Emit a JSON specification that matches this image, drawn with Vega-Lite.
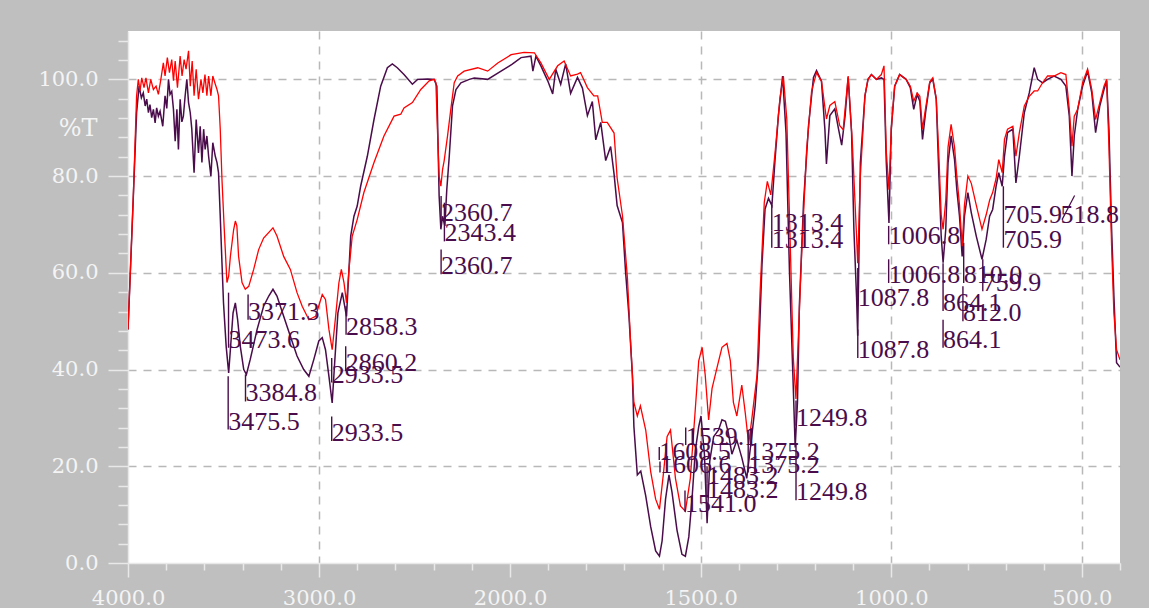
{
"$schema": "https://vega.github.io/schema/vega-lite/v6.json",
"width": 992, "height": 532,
"autosize": "none",
"padding": {"left": 128, "top": 31, "right": 29, "bottom": 45},
"background": "#bfbfbf",
"config": {"view": {"stroke": null, "fill": "#ffffff"}},
"datasets": {
"A": [
{"w":4000,"t":48.3},{"w":3990,"t":57.9},{"w":3972,"t":75.9},{"w":3955,"t":93.1},{"w":3942,"t":98.6},{"w":3930,"t":96.2},{"w":3920,"t":97.2},{"w":3910,"t":94.5},{"w":3902,"t":95.9},{"w":3893,"t":93.1},{"w":3885,"t":94.8},{"w":3876,"t":92.1},{"w":3867,"t":93.8},{"w":3858,"t":91},{"w":3850,"t":94.1},{"w":3841,"t":92.4},{"w":3832,"t":93.4},{"w":3818,"t":90.3},{"w":3806,"t":96.6},{"w":3797,"t":94},{"w":3788,"t":100},{"w":3780,"t":96.9},{"w":3771,"t":97.5},{"w":3762,"t":93.8},{"w":3753,"t":87.2},{"w":3744,"t":93.8},{"w":3736,"t":85.5},{"w":3727,"t":95.9},{"w":3718,"t":91.2},{"w":3710,"t":92.4},{"w":3701,"t":96.5},{"w":3692,"t":100},{"w":3683,"t":95.2},{"w":3674,"t":93.1},{"w":3666,"t":89.7},{"w":3654,"t":80.7},{"w":3643,"t":91.7},{"w":3631,"t":84.8},{"w":3622,"t":90.3},{"w":3613,"t":82.8},{"w":3604,"t":89.7},{"w":3596,"t":85.5},{"w":3587,"t":88.3},{"w":3578,"t":84.1},{"w":3566,"t":80},{"w":3556,"t":86.9},{"w":3543,"t":84.1},{"w":3534,"t":82.8},{"w":3526,"t":80.7},{"w":3517,"t":71.7},{"w":3508,"t":62.1},{"w":3500,"t":53.8},{"w":3486,"t":44.8},{"w":3473,"t":39.3},{"w":3464,"t":44.1},{"w":3450,"t":51.7},{"w":3438,"t":53.8},{"w":3426,"t":50.3},{"w":3412,"t":44.8},{"w":3394,"t":40},{"w":3380,"t":39},{"w":3360,"t":42.1},{"w":3324,"t":48.3},{"w":3290,"t":53.1},{"w":3263,"t":55.2},{"w":3241,"t":56.6},{"w":3220,"t":55.2},{"w":3185,"t":51},{"w":3150,"t":46.9},{"w":3115,"t":42.8},{"w":3080,"t":40},{"w":3053,"t":38.6},{"w":3027,"t":42.1},{"w":3001,"t":45.9},{"w":2983,"t":46.6},{"w":2966,"t":44.1},{"w":2948,"t":38.6},{"w":2931,"t":33.1},{"w":2918,"t":41.4},{"w":2901,"t":51.7},{"w":2878,"t":55.9},{"w":2856,"t":51},{"w":2834,"t":67.6},{"w":2817,"t":71.7},{"w":2800,"t":73.8},{"w":2782,"t":77.9},{"w":2747,"t":84.1},{"w":2712,"t":91.7},{"w":2677,"t":98.6},{"w":2642,"t":102.4},{"w":2616,"t":103.2},{"w":2590,"t":102.4},{"w":2555,"t":101},{"w":2511,"t":99},{"w":2484,"t":100},{"w":2432,"t":100.1},{"w":2397,"t":100},{"w":2383,"t":98.6},{"w":2371,"t":75.9},{"w":2362,"t":69},{"w":2353,"t":71.7},{"w":2341,"t":69.7},{"w":2331,"t":77.2},{"w":2318,"t":84.1},{"w":2301,"t":94.5},{"w":2283,"t":97.9},{"w":2257,"t":99.3},{"w":2213,"t":100},{"w":2187,"t":100.3},{"w":2117,"t":100},{"w":2047,"t":101.7},{"w":1995,"t":103.1},{"w":1971,"t":104.5},{"w":1945,"t":104.8},{"w":1940,"t":101.7},{"w":1932,"t":104.8},{"w":1919,"t":102.8},{"w":1901,"t":99.7},{"w":1888,"t":97},{"w":1880,"t":102.1},{"w":1867,"t":99},{"w":1854,"t":103.2},{"w":1841,"t":97.1},{"w":1823,"t":100.4},{"w":1810,"t":98.2},{"w":1797,"t":92.5},{"w":1784,"t":95.4},{"w":1775,"t":87.5},{"w":1762,"t":91.1},{"w":1749,"t":83.2},{"w":1736,"t":86.1},{"w":1727,"t":80.4},{"w":1719,"t":73.9},{"w":1705,"t":70.4},{"w":1697,"t":60.4},{"w":1688,"t":51.1},{"w":1679,"t":38.9},{"w":1675,"t":28.2},{"w":1666,"t":18.2},{"w":1657,"t":19},{"w":1644,"t":13.9},{"w":1631,"t":7.5},{"w":1618,"t":2.5},{"w":1608,"t":1.4},{"w":1601,"t":4.6},{"w":1592,"t":13.2},{"w":1583,"t":18.2},{"w":1575,"t":14.6},{"w":1562,"t":6.8},{"w":1549,"t":1.8},{"w":1540,"t":1.4},{"w":1531,"t":5.4},{"w":1522,"t":13.9},{"w":1514,"t":23.2},{"w":1505,"t":28.2},{"w":1499,"t":30.4},{"w":1490,"t":22.5},{"w":1483,"t":8.2},{"w":1476,"t":21.1},{"w":1466,"t":26.1},{"w":1453,"t":27.5},{"w":1444,"t":29.6},{"w":1435,"t":29.3},{"w":1427,"t":26.8},{"w":1418,"t":22.5},{"w":1405,"t":25.4},{"w":1392,"t":21.8},{"w":1379,"t":17.5},{"w":1366,"t":26.1},{"w":1357,"t":32.5},{"w":1348,"t":42.5},{"w":1339,"t":61.8},{"w":1331,"t":73.2},{"w":1322,"t":75.4},{"w":1313,"t":73.9},{"w":1305,"t":83.2},{"w":1296,"t":92.5},{"w":1285,"t":100.7},{"w":1276,"t":88.9},{"w":1267,"t":60.4},{"w":1258,"t":38.9},{"w":1252,"t":23.9},{"w":1246,"t":33.2},{"w":1241,"t":53.2},{"w":1230,"t":74.6},{"w":1217,"t":90.4},{"w":1204,"t":100.4},{"w":1196,"t":101.8},{"w":1183,"t":99.6},{"w":1174,"t":89.6},{"w":1170,"t":82.5},{"w":1161,"t":92.5},{"w":1148,"t":93.9},{"w":1139,"t":90},{"w":1130,"t":86.4},{"w":1121,"t":92.5},{"w":1113,"t":100.4},{"w":1104,"t":88.9},{"w":1098,"t":69},{"w":1091,"t":55},{"w":1088,"t":47},{"w":1081,"t":82.8},{"w":1069,"t":96.6},{"w":1061,"t":100},{"w":1052,"t":101},{"w":1039,"t":100},{"w":1026,"t":100.3},{"w":1019,"t":100},{"w":1013,"t":82.8},{"w":1006,"t":70.3},{"w":1000,"t":89.7},{"w":991,"t":98.6},{"w":978,"t":101},{"w":961,"t":100},{"w":950,"t":98.3},{"w":941,"t":93.8},{"w":932,"t":96.9},{"w":925,"t":95.5},{"w":918,"t":87.6},{"w":910,"t":93.1},{"w":899,"t":99.3},{"w":891,"t":100},{"w":882,"t":95.9},{"w":875,"t":80},{"w":869,"t":67.6},{"w":864,"t":62.1},{"w":857,"t":69},{"w":851,"t":82.8},{"w":843,"t":88.3},{"w":834,"t":83.4},{"w":828,"t":77.2},{"w":821,"t":71.7},{"w":814,"t":63.4},{"w":808,"t":71.7},{"w":799,"t":76.6},{"w":790,"t":72.4},{"w":777,"t":67.6},{"w":762,"t":62.8},{"w":751,"t":66.9},{"w":742,"t":71.7},{"w":734,"t":73.1},{"w":725,"t":77.9},{"w":718,"t":80.7},{"w":709,"t":77.9},{"w":703,"t":84.1},{"w":695,"t":89},{"w":681,"t":89.7},{"w":673,"t":78.6},{"w":664,"t":84.1},{"w":651,"t":93.1},{"w":638,"t":97.2},{"w":625,"t":102.4},{"w":616,"t":100},{"w":603,"t":99.3},{"w":590,"t":100},{"w":573,"t":100.7},{"w":555,"t":100},{"w":542,"t":98.6},{"w":533,"t":92.4},{"w":526,"t":80},{"w":520,"t":88.3},{"w":511,"t":93.8},{"w":498,"t":98.6},{"w":485,"t":101.7},{"w":474,"t":97.2},{"w":464,"t":89},{"w":453,"t":94.5},{"w":442,"t":97.9},{"w":435,"t":99.7},{"w":429,"t":89.7},{"w":422,"t":69},{"w":416,"t":55.2},{"w":409,"t":41.4},{"w":400,"t":40.5}
],
"B": [
{"w":4000,"t":48.3},{"w":3990,"t":58},{"w":3972,"t":76},{"w":3955,"t":96.6},{"w":3946,"t":100},{"w":3937,"t":97.6},{"w":3928,"t":100.3},{"w":3916,"t":98.3},{"w":3906,"t":100.3},{"w":3893,"t":97.2},{"w":3881,"t":100},{"w":3867,"t":97.9},{"w":3853,"t":98.6},{"w":3841,"t":96.9},{"w":3828,"t":100},{"w":3815,"t":103.4},{"w":3806,"t":100.7},{"w":3794,"t":104.5},{"w":3783,"t":101.4},{"w":3771,"t":104.1},{"w":3762,"t":99.7},{"w":3753,"t":103.8},{"w":3741,"t":98.3},{"w":3727,"t":104.8},{"w":3717,"t":100.7},{"w":3706,"t":104.1},{"w":3696,"t":102.1},{"w":3683,"t":105.9},{"w":3674,"t":98.6},{"w":3664,"t":103.8},{"w":3654,"t":96.6},{"w":3643,"t":102.1},{"w":3631,"t":95.9},{"w":3618,"t":100},{"w":3608,"t":97.2},{"w":3597,"t":101},{"w":3587,"t":96.6},{"w":3578,"t":100.7},{"w":3566,"t":96.6},{"w":3556,"t":100.7},{"w":3543,"t":99},{"w":3534,"t":97.9},{"w":3526,"t":96.6},{"w":3517,"t":89.7},{"w":3508,"t":79.3},{"w":3496,"t":69},{"w":3482,"t":58},{"w":3473,"t":59.3},{"w":3464,"t":63.4},{"w":3447,"t":68.9},{"w":3438,"t":70.7},{"w":3430,"t":69.7},{"w":3421,"t":63.4},{"w":3403,"t":58},{"w":3386,"t":56.6},{"w":3368,"t":57.2},{"w":3342,"t":60.7},{"w":3316,"t":64.8},{"w":3290,"t":67.2},{"w":3241,"t":69.3},{"w":3220,"t":67.6},{"w":3185,"t":63.4},{"w":3150,"t":60.7},{"w":3115,"t":55.9},{"w":3088,"t":53.1},{"w":3053,"t":50.3},{"w":3018,"t":51},{"w":2983,"t":55.5},{"w":2966,"t":54.5},{"w":2948,"t":48.3},{"w":2931,"t":44.1},{"w":2913,"t":51},{"w":2896,"t":57.9},{"w":2883,"t":60.7},{"w":2869,"t":57.9},{"w":2856,"t":53.8},{"w":2843,"t":60.7},{"w":2826,"t":67.6},{"w":2800,"t":71},{"w":2765,"t":76.6},{"w":2712,"t":82.8},{"w":2660,"t":88.3},{"w":2607,"t":92.4},{"w":2572,"t":92.8},{"w":2555,"t":94.1},{"w":2511,"t":95.2},{"w":2467,"t":97.9},{"w":2423,"t":99.7},{"w":2397,"t":100},{"w":2388,"t":99.3},{"w":2380,"t":89.7},{"w":2371,"t":80},{"w":2362,"t":77.9},{"w":2353,"t":81.4},{"w":2345,"t":83.1},{"w":2327,"t":88.3},{"w":2310,"t":93.8},{"w":2292,"t":99.3},{"w":2274,"t":100.7},{"w":2240,"t":101.7},{"w":2169,"t":102.4},{"w":2117,"t":101.7},{"w":2064,"t":103.4},{"w":1997,"t":105.1},{"w":1963,"t":105.6},{"w":1936,"t":105.5},{"w":1919,"t":103.4},{"w":1897,"t":100},{"w":1875,"t":102.8},{"w":1858,"t":103.8},{"w":1841,"t":100.7},{"w":1823,"t":101.1},{"w":1815,"t":101.4},{"w":1797,"t":98.3},{"w":1780,"t":96.6},{"w":1770,"t":96.6},{"w":1758,"t":91.1},{"w":1745,"t":91.1},{"w":1727,"t":88.9},{"w":1719,"t":79.6},{"w":1705,"t":71.8},{"w":1692,"t":58.9},{"w":1684,"t":46.1},{"w":1675,"t":33.2},{"w":1666,"t":30.4},{"w":1658,"t":32.5},{"w":1644,"t":27.5},{"w":1631,"t":18.9},{"w":1618,"t":13.2},{"w":1608,"t":11.1},{"w":1597,"t":18.9},{"w":1588,"t":26.1},{"w":1579,"t":27.5},{"w":1566,"t":17.5},{"w":1553,"t":11.8},{"w":1540,"t":10.7},{"w":1527,"t":17.5},{"w":1514,"t":31.8},{"w":1505,"t":41.8},{"w":1496,"t":44.6},{"w":1488,"t":38.9},{"w":1479,"t":29.6},{"w":1470,"t":36.1},{"w":1457,"t":40.4},{"w":1444,"t":44.6},{"w":1431,"t":45.4},{"w":1422,"t":41.8},{"w":1414,"t":33.2},{"w":1405,"t":30.4},{"w":1392,"t":36.8},{"w":1383,"t":31.1},{"w":1374,"t":24.6},{"w":1366,"t":29.6},{"w":1352,"t":38.9},{"w":1344,"t":56.1},{"w":1333,"t":74.6},{"w":1325,"t":78.9},{"w":1316,"t":76.1},{"w":1305,"t":84.6},{"w":1292,"t":96.1},{"w":1283,"t":100.7},{"w":1274,"t":91.8},{"w":1265,"t":66.1},{"w":1257,"t":42.5},{"w":1250,"t":33.9},{"w":1244,"t":46.1},{"w":1235,"t":64},{"w":1222,"t":85.4},{"w":1209,"t":97.5},{"w":1196,"t":101.4},{"w":1183,"t":99.6},{"w":1170,"t":91.8},{"w":1161,"t":94.6},{"w":1148,"t":95.4},{"w":1135,"t":90.4},{"w":1126,"t":89.6},{"w":1113,"t":100.7},{"w":1102,"t":86.8},{"w":1091,"t":67.5},{"w":1088,"t":62},{"w":1081,"t":80},{"w":1069,"t":96.6},{"w":1061,"t":100},{"w":1052,"t":101},{"w":1039,"t":100},{"w":1026,"t":101},{"w":1019,"t":102.8},{"w":1013,"t":85},{"w":1006,"t":77.2},{"w":1000,"t":89.7},{"w":991,"t":98.6},{"w":978,"t":101},{"w":961,"t":100},{"w":950,"t":98.6},{"w":941,"t":95.5},{"w":932,"t":97.2},{"w":925,"t":96.5},{"w":918,"t":89.7},{"w":910,"t":94},{"w":899,"t":99.5},{"w":891,"t":100.3},{"w":882,"t":96},{"w":875,"t":84},{"w":869,"t":72},{"w":864,"t":69},{"w":857,"t":75},{"w":851,"t":86},{"w":843,"t":90.7},{"w":834,"t":86},{"w":828,"t":80},{"w":821,"t":74},{"w":814,"t":65.5},{"w":808,"t":74},{"w":799,"t":80},{"w":790,"t":78.5},{"w":777,"t":74},{"w":762,"t":69},{"w":751,"t":72},{"w":742,"t":75},{"w":734,"t":76.6},{"w":725,"t":79.5},{"w":718,"t":83.4},{"w":709,"t":80.7},{"w":703,"t":87.6},{"w":695,"t":89.7},{"w":681,"t":90.3},{"w":673,"t":84.1},{"w":664,"t":89},{"w":651,"t":94.5},{"w":638,"t":96.5},{"w":625,"t":97.6},{"w":616,"t":97.6},{"w":603,"t":99.3},{"w":590,"t":100.7},{"w":573,"t":100.7},{"w":555,"t":101.4},{"w":542,"t":101},{"w":533,"t":93.8},{"w":526,"t":86.2},{"w":520,"t":92.4},{"w":511,"t":93.8},{"w":498,"t":99.3},{"w":485,"t":102.1},{"w":474,"t":97.9},{"w":464,"t":91.7},{"w":453,"t":95.2},{"w":442,"t":98.6},{"w":435,"t":100},{"w":429,"t":86.2},{"w":422,"t":65.5},{"w":416,"t":51.7},{"w":409,"t":44.1},{"w":400,"t":42}
],
"peaks": [
{"w":3475.5,"label":"3475.5","top":38.6,"base":27.6},
{"w":3473.6,"label":"3473.6","top":55.9,"base":44.5},
{"w":3371.3,"label":"3371.3","top":55.5,"base":50.3},
{"w":3384.8,"label":"3384.8","top":39,"base":33.4},
{"w":2933.5,"label":"2933.5","top":30.3,"base":25.2},
{"w":2933.5,"label":"2933.5","top":42.4,"base":37.3},
{"w":2860.2,"label":"2860.2","top":44.8,"base":39.7},
{"w":2858.3,"label":"2858.3","top":53.1,"base":47.2},
{"w":2360.7,"label":"2360.7","top":75.9,"base":70.7},
{"w":2343.4,"label":"2343.4","top":74.5,"base":66.5},
{"w":2360.7,"label":"2360.7","top":64.8,"base":59.7},
{"w":1313.4,"label":"1313.4","top":74,"base":68.7},
{"w":1313.4,"label":"1313.4","top":68.7,"base":65.2},
{"w":1249.8,"label":"1249.8","top":33.6,"base":28.4},
{"w":1249.8,"label":"1249.8","top":24.6,"base":13},
{"w":1539.1,"label":"1539.1","top":28,"base":24.4},
{"w":1608.5,"label":"1608.5","top":24,"base":21.3},
{"w":1606.6,"label":"1606.6","top":21,"base":18.7},
{"w":1375.2,"label":"1375.2","top":27.5,"base":21.3},
{"w":1375.2,"label":"1375.2","top":21.3,"base":18.7},
{"w":1483.2,"label":"1483.2","top":20,"base":16.4},
{"w":1483.2,"label":"1483.2","top":16.4,"base":13.5},
{"w":1541.0,"label":"1541.0","top":15,"base":10.6},
{"w":1087.8,"label":"1087.8","top":61,"base":53.2},
{"w":1087.8,"label":"1087.8","top":48.3,"base":42.4},
{"w":1006.8,"label":"1006.8","top":69.7,"base":65.9},
{"w":1006.8,"label":"1006.8","top":62.8,"base":57.9},
{"w":864.1,"label":"864.1","top":62,"base":52.1},
{"w":864.1,"label":"864.1","top":50.3,"base":44.5},
{"w":810.0,"label":"810.0","top":66.2,"base":57.9},
{"w":812.0,"label":"812.0","top":57.2,"base":50},
{"w":759.9,"label":"759.9","top":62.8,"base":56.2},
{"w":705.9,"label":"705.9","top":77.9,"base":70.3},
{"w":705.9,"label":"705.9","top":70.3,"base":65.2}
],
"lead": [
{"w":519,"t":76,"w2":552,"t2":71,"label":"518.8","tw":556,"tb":70.3}
]
},
"layer": [
{
"data": {"name": "A"},
"mark": {"type": "line", "color": "#4a0c4a", "strokeWidth": 1.5, "clip": true},
"encoding": {
"x": {"field": "w", "type": "quantitative", "title": null,
"scale": {"domain": [4000, 2000, 400], "range": [0, 382, 992], "zero": false, "nice": false},
"axis": {
"values": [4000,3800,3600,3400,3200,3000,2800,2600,2400,2200,2000,1900,1800,1700,1600,1500,1400,1300,1200,1100,1000,900,800,700,600,500,400],
"tickCount": 200,
"labelExpr": "(datum.value == 4000 || datum.value == 3000 || datum.value == 2000 || datum.value == 1500 || datum.value == 1000 || datum.value == 500) ? format(datum.value, '.1f') : ''",
"tickSize": {"condition": {"test": "datum.value == 4000 || datum.value == 3000 || datum.value == 2000 || datum.value == 1500 || datum.value == 1000 || datum.value == 500", "value": 14}, "value": 7},
"gridOpacity": {"condition": {"test": "datum.value == 3000 || datum.value == 1500 || datum.value == 1000 || datum.value == 500", "value": 1}, "value": 0},
"grid": true, "gridColor": "#b8b8b8", "gridDash": [8, 7], "gridWidth": 1.5,
"domainColor": "#e8e8e8", "domainWidth": 1.5, "tickColor": "#e8e8e8", "tickWidth": 1.5,
"labelFont": "DejaVu Serif", "labelFontSize": 21, "labelColor": "#f4f4f4", "labelPadding": 10,
"labelBaseline": "top", "labelFlush": false, "labelOverlap": false
}},
"y": {"field": "t", "type": "quantitative", "title": "%T",
"scale": {"domain": [0, 110], "zero": false, "nice": false},
"axis": {
"values": [0,4,8,12,16,20,24,28,32,36,40,44,48,52,56,60,64,68,72,76,80,84,88,92,96,100,104,108],
"tickCount": 200,
"labelExpr": "datum.value % 20 == 0 ? format(datum.value, '.1f') : ''",
"tickSize": {"condition": {"test": "datum.value % 20 == 0", "value": 20}, "value": 10},
"gridOpacity": {"condition": {"test": "datum.value % 20 == 0 && datum.value > 0", "value": 1}, "value": 0},
"grid": true, "gridColor": "#b8b8b8", "gridDash": [8, 7], "gridWidth": 1.5,
"domainColor": "#e8e8e8", "domainWidth": 1.5, "tickColor": "#e8e8e8", "tickWidth": 1.5,
"labelFont": "DejaVu Serif", "labelFontSize": 21, "labelColor": "#f4f4f4", "labelPadding": 10,
"labelBaseline": "middle", "labelFlush": false, "labelOverlap": false,
"titleAngle": 0, "titleAlign": "right", "titleBaseline": "middle", "titleX": -31, "titleY": 97,
"titleFont": "DejaVu Serif", "titleFontSize": 24, "titleFontWeight": "normal", "titleColor": "#f4f4f4"
}}
}
},
{
"data": {"name": "B"},
"mark": {"type": "line", "color": "#ff0000", "strokeWidth": 1.3, "clip": true},
"encoding": {
"x": {"field": "w", "type": "quantitative", "title": null},
"y": {"field": "t", "type": "quantitative", "title": "%T"}
}
},
{
"data": {"name": "peaks"},
"mark": {"type": "rule", "color": "#4a0c4a", "strokeWidth": 1.4},
"encoding": {
"x": {"field": "w", "type": "quantitative", "title": null},
"y": {"field": "top", "type": "quantitative", "title": "%T"},
"y2": {"field": "base"}
}
},
{
"data": {"name": "peaks"},
"mark": {"type": "text", "color": "#4a0c4a", "font": "Liberation Serif", "fontSize": 26, "align": "left", "baseline": "alphabetic"},
"encoding": {
"x": {"field": "w", "type": "quantitative", "title": null},
"y": {"field": "base", "type": "quantitative", "title": "%T"},
"text": {"field": "label"}
}
},
{
"data": {"name": "lead"},
"mark": {"type": "rule", "color": "#4a0c4a", "strokeWidth": 1.2},
"encoding": {
"x": {"field": "w", "type": "quantitative", "title": null},
"y": {"field": "t", "type": "quantitative", "title": "%T"},
"x2": {"field": "w2"},
"y2": {"field": "t2"}
}
},
{
"data": {"name": "lead"},
"mark": {"type": "text", "color": "#4a0c4a", "font": "Liberation Serif", "fontSize": 26, "align": "left", "baseline": "alphabetic"},
"encoding": {
"x": {"field": "tw", "type": "quantitative", "title": null},
"y": {"field": "tb", "type": "quantitative", "title": "%T"},
"text": {"field": "label"}
}
}
]
}
